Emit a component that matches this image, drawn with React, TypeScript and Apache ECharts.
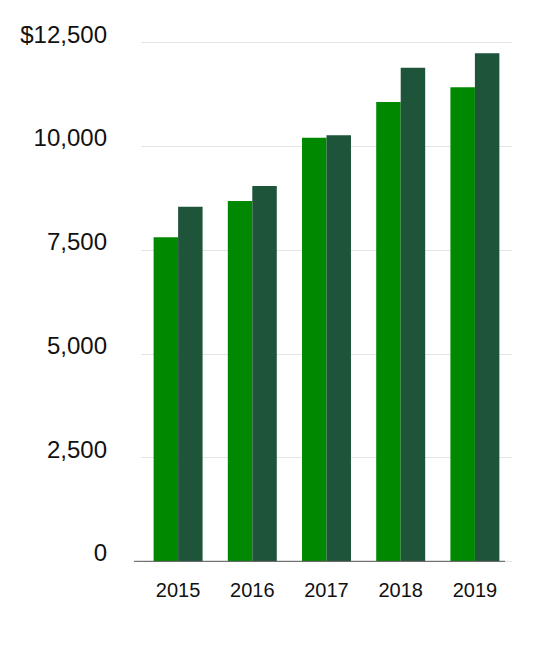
import React, { useEffect, useRef } from 'react';
import * as echarts from 'echarts';

const years = ['2015', '2016', '2017', '2018', '2019'];
const seriesA = [7810, 8685, 10210, 11070, 11425];
const seriesB = [8545, 9045, 10270, 11895, 12245];
const yTicks = [0, 2500, 5000, 7500, 10000, 12500];

const fmt = (v: number) => {
  const s = v.toLocaleString('en-US');
  // trailing blank line lifts the label so it sits just above its grid line
  return (v === yTicks[yTicks.length - 1] ? '$' + s : s) + '\n ';
};

const App: React.FC = () => {
  const chartRef = useRef<HTMLDivElement | null>(null);

  useEffect(() => {
    if (!chartRef.current) return;
    const chart = echarts.init(chartRef.current, undefined, { renderer: 'svg' });

    const option = {
      animation: false,
      textStyle: { fontFamily: '"Liberation Sans", Arial, sans-serif' },
      grid: { left: 141, right: 38, top: 42.7, bottom: 89.7 },
      xAxis: {
        type: 'category',
        data: years,
        axisTick: { show: false },
        axisLine: { show: false },
        axisLabel: { color: '#111', fontSize: 20, margin: 19 },
      },
      yAxis: {
        type: 'value',
        min: 0,
        max: yTicks[yTicks.length - 1],
        interval: 2500,
        axisLine: { show: false },
        axisTick: { show: false },
        splitLine: { lineStyle: { color: '#e4e4e4', width: 1 } },
        axisLabel: {
          color: '#111',
          fontSize: 24,
          lineHeight: 17,
          margin: 34,
          verticalAlign: 'middle',
          formatter: fmt,
        },
      },
      series: [
        {
          type: 'bar',
          data: seriesA,
          barGap: '0%',
          barCategoryGap: '34%',
          itemStyle: { color: '#008800' },
        },
        {
          type: 'bar',
          data: seriesB,
          itemStyle: { color: '#1e5439' },
        },
      ],
    };

    chart.setOption(option);

    // baseline runs a little left of the plot area, as in the original
    const y0 = chart.convertToPixel({ yAxisIndex: 0 }, 0) as number;
    chart.setOption({
      graphic: [
        {
          type: 'line',
          shape: { x1: 134, y1: y0, x2: 505, y2: y0 },
          style: { stroke: '#555', lineWidth: 1 },
          z: 10,
        },
      ],
    });

    return () => {
      chart.dispose();
    };
  }, []);

  return (
    <div
      ref={chartRef}
      style={{ position: 'fixed', left: 0, top: 0, width: '550px', height: '651px', background: '#fff' }}
    />
  );
};

export default App;
